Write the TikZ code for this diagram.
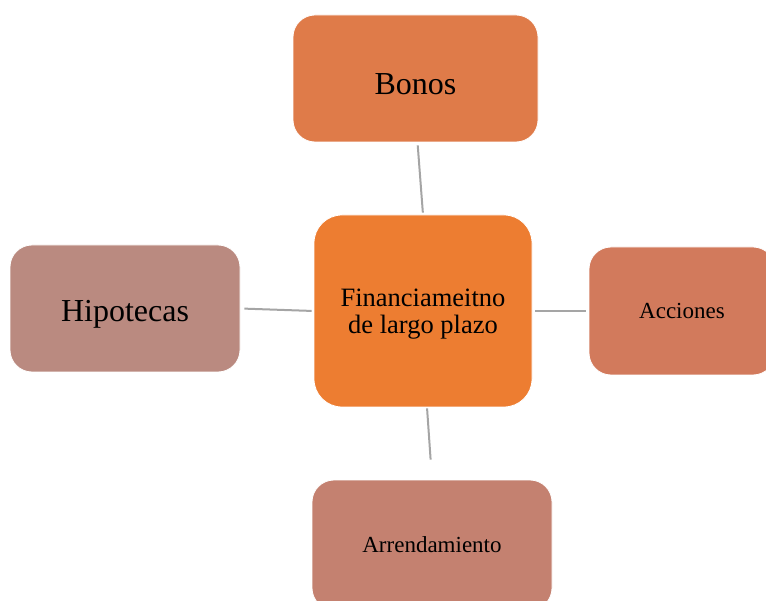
\documentclass[tikz,border=0pt]{standalone}
\usepackage{fontspec}
\setmainfont{Liberation Serif}
\usepackage{tikz}
\usetikzlibrary{positioning}

\definecolor{centro}{HTML}{ED7D31}
\definecolor{bonoscol}{HTML}{DF7B49}
\definecolor{accioncol}{HTML}{D27A5C}
\definecolor{arrendcol}{HTML}{C48170}
\definecolor{hipocol}{HTML}{BA8A80}
\definecolor{liga}{HTML}{A5A5A5}

\begin{document}
\begin{tikzpicture}[x=1pt, y=1pt,
	caja/.style={rectangle, rounded corners=22pt, draw=white, line width=0.8pt, text=black, align=center, inner sep=0pt},
	conector/.style={draw=liga, line width=2pt}]
	\def\grande{\fontsize{32}{36}\selectfont}
	\def\medio{\fontsize{26.5}{26.6}\selectfont}
	\def\chico{\fontsize{23}{26}\selectfont}
	\useasboundingbox (0,0) rectangle (766,-601);

	\node[caja, fill=centro, minimum width=218pt, minimum height=192pt, rounded corners=28pt, font=\medio, text height=44.6pt, text depth=0pt] (fin) at (423,-311) {Financiameitno\\de largo plazo};
	\node[caja, fill=bonoscol, minimum width=245pt, minimum height=127pt, font=\grande, text height=33pt, text depth=0pt] (bonos) at (415.5,-78.5) {Bonos};
	\node[caja, fill=hipocol, minimum width=230pt, minimum height=127pt, font=\grande, text height=27pt, text depth=0pt] (hipo) at (125,-308.5) {Hipotecas};
	\node[caja, fill=accioncol, minimum width=186pt, minimum height=128pt, font=\chico] (acc) at (682,-311) {Acciones};
	\node[caja, fill=arrendcol, minimum width=240pt, minimum height=130pt, font=\chico] (arr) at (432,-545) {Arrendamiento};

	% lineas de union
	\draw[conector, shorten <=3pt, shorten >=2pt] ([xshift=2pt]bonos.south) -- (fin.north);
	\draw[conector, shorten <=4pt, shorten >=2pt] (hipo.east) -- (fin.west);
	\draw[conector, shorten <=3pt, shorten >=3pt] (fin.east) -- (acc.west);
	\draw[conector, shorten <=1pt, shorten >=20pt] ([xshift=4pt]fin.south) -- (arr.north);
\end{tikzpicture}
\end{document}
